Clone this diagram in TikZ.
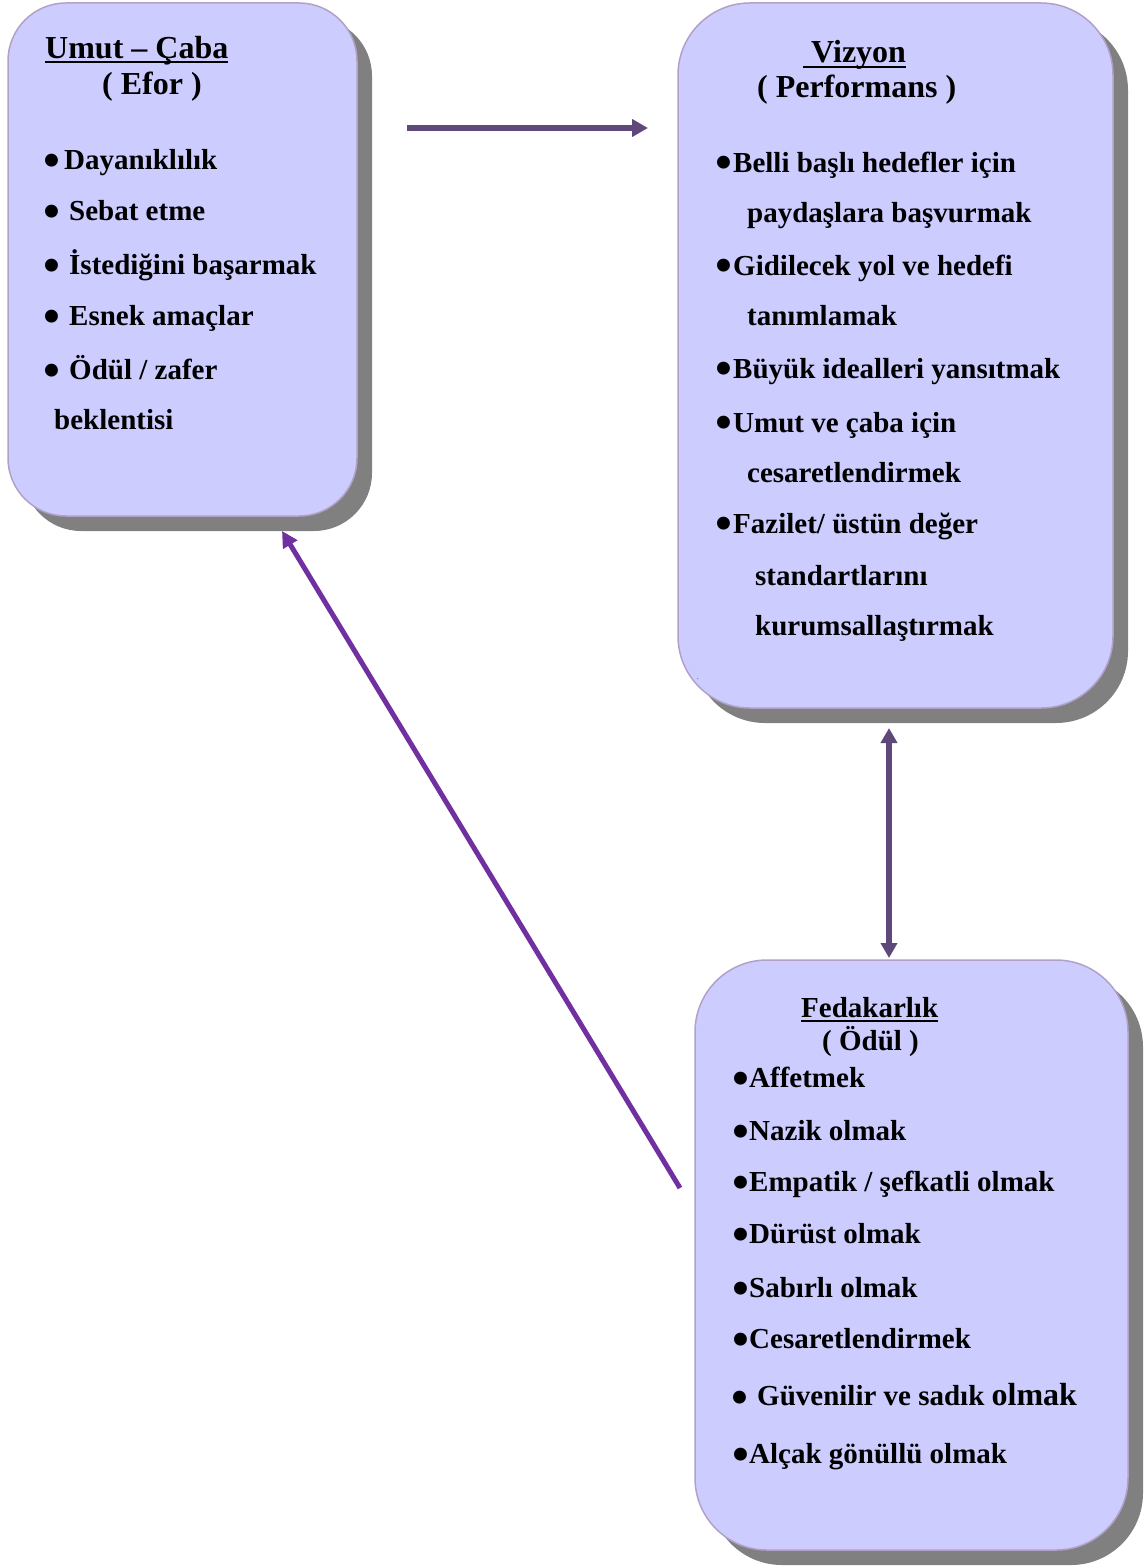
\documentclass[tikz,border=0pt]{standalone}
\usepackage{fontspec}
\setmainfont{Liberation Serif}
\usetikzlibrary{arrows.meta,shadows}

\definecolor{boxfill}{HTML}{CCCCFF}
\definecolor{boxline}{HTML}{B2A1C7}
\definecolor{shade}{HTML}{808080}
\definecolor{darkarrow}{HTML}{5F497A}
\definecolor{violetarrow}{HTML}{7030A0}

% underline drawn at a fixed depth below the baseline
\newsavebox\ulinebox
\newcommand\ulinetext[1]{\sbox\ulinebox{#1}\rlap{\rule[-5pt]{\wd\ulinebox}{2pt}}\usebox\ulinebox}

\tikzset{
  panel/.style={draw=boxline, line width=1.5pt, fill=boxfill, inner sep=0pt, outer sep=0pt,
    drop shadow={shadow xshift=15pt, shadow yshift=-15pt, fill=shade, opacity=1}},
  itemtext/.style={anchor=base west, inner sep=0pt, font=\fontsize{29}{29}\selectfont\bfseries},
  titletext/.style={anchor=base west, inner sep=0pt, font=\fontsize{32}{32}\selectfont\bfseries},
  bulletmark/.style={inner sep=0pt, yshift=-6pt, font=\fontsize{54}{54}\selectfont},
  arrowline/.style={line width=6pt, draw=darkarrow, -{Triangle[length=16pt,width=17pt]}},
}

\newcommand\bul[3]{\node[bulletmark] (#1) at (#2,#3) {\textbullet};}

\begin{document}
\begin{tikzpicture}[x=1pt,y=-1pt]
\useasboundingbox (0,0) rectangle (1145,1568);

% three panels
\node[panel, minimum width=349pt, minimum height=513pt, rounded corners=58pt] (umut) at (182.5,259.5) {};
\node[panel, minimum width=435pt, minimum height=705pt, rounded corners=72pt] (vizyon) at (895.5,355.5) {};
\node[panel, minimum width=433pt, minimum height=590pt, rounded corners=72pt] (feda) at (911.5,1255) {};

% Umut - Caba
\node[titletext] (t1a) at (45,58.5) {\ulinetext{Umut – Çaba}};
\node[titletext] (t1b) at (102,95) {( Efor )};
\bul{b11}{52}{160}  \node[itemtext] (l11) at (64,169) {Dayanıklılık};
\bul{b12}{52}{211}  \node[itemtext] (l12) at (69,220) {Sebat etme};
\bul{b13}{52}{265}  \node[itemtext] (l13) at (69,274) {İstediğini başarmak};
\bul{b14}{52}{316}  \node[itemtext] (l14) at (69,325) {Esnek amaçlar};
\bul{b15}{52}{370}  \node[itemtext] (l15) at (69,379) {Ödül / zafer};
\node[itemtext] (l16) at (54,429) {beklentisi};

% Vizyon
\node[titletext] (t2a) at (803,63) {\ulinetext{\ Vizyon}};
\node[titletext] (t2b) at (757,98) {( Performans )};
\bul{b21}{724}{162.5} \node[itemtext] (l21) at (733,172) {Belli başlı hedefler için};
\node[itemtext] (l22) at (747,222) {paydaşlara başvurmak};
\bul{b23}{724}{265.5} \node[itemtext] (l23) at (733,275) {Gidilecek yol ve hedefi};
\node[itemtext] (l24) at (747,325) {tanımlamak};
\bul{b25}{724}{368.5} \node[itemtext] (l25) at (733,378) {Büyük idealleri yansıtmak};
\bul{b26}{724}{422.5} \node[itemtext] (l26) at (733,432) {Umut ve çaba için};
\node[itemtext] (l27) at (747,482) {cesaretlendirmek};
\bul{b28}{724}{523.5} \node[itemtext] (l28) at (733,533) {Fazilet/ üstün değer};
\node[itemtext] (l29) at (755,585) {standartlarını};
\node[itemtext] (l2a) at (755,635) {kurumsallaştırmak};
\node[anchor=base west, inner sep=0pt, font=\fontsize{7}{7}\selectfont] (speck) at (697,679) {.};

% Fedakarlik
\node[itemtext] (t3a) at (801,1017) {\ulinetext{Fedakarlık}};
\node[itemtext] (t3b) at (822,1050) {( Ödül )};
\bul{b31}{741}{1078} \node[itemtext] (l31) at (749,1087) {Affetmek};
\bul{b32}{741}{1131} \node[itemtext] (l32) at (749,1140) {Nazik olmak};
\bul{b33}{741}{1182} \node[itemtext] (l33) at (749,1191) {Empatik / şefkatli olmak};
\bul{b34}{741}{1234} \node[itemtext] (l34) at (749,1243) {Dürüst olmak};
\bul{b35}{741}{1288} \node[itemtext] (l35) at (749,1297) {Sabırlı olmak};
\bul{b36}{741}{1339} \node[itemtext] (l36) at (749,1348) {Cesaretlendirmek};
\bul{b37}{740}{1397} \node[itemtext] (l37) at (757,1405) {Güvenilir ve sadık {\fontsize{32}{32}\selectfont olmak}};
\bul{b38}{741}{1454} \node[itemtext] (l38) at (749,1463) {Alçak gönüllü olmak};

% connectors
\coordinate (h1) at (407,128);
\coordinate (h2) at (648,128);
\coordinate (v1) at (889,728);
\coordinate (v2) at (889,958);
\coordinate (d1) at (680,1188);
\coordinate (d2) at (282,531);
\draw[arrowline] (h1) -- (h2);
\draw[arrowline, {Triangle[length=15pt,width=16pt]}-{Triangle[length=15pt,width=16pt]}] (v1) -- (v2);
\draw[arrowline, line width=5pt, draw=violetarrow, -{Triangle[length=16pt,width=16pt]}] (d1) -- (d2);
\end{tikzpicture}
\end{document}
